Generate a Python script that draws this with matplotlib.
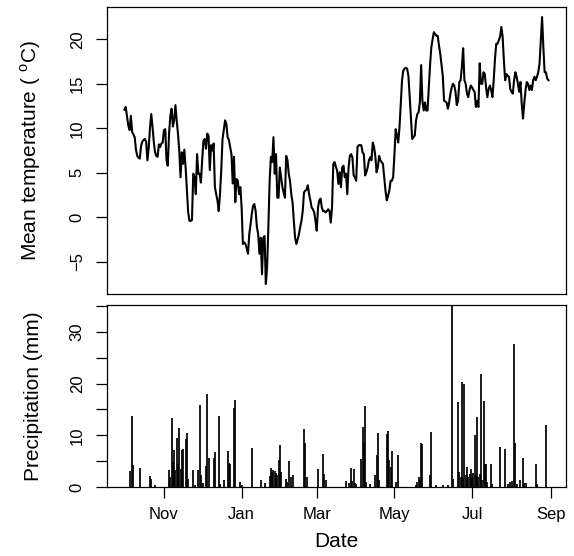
import numpy as np
import matplotlib.pyplot as plt
import matplotlib.dates as mdates

plt.rcParams['font.family'] = ['Liberation Sans', 'DejaVu Sans']
plt.rcParams['mathtext.fontset'] = 'custom'
plt.rcParams['mathtext.rm'] = 'Liberation Sans'

start = np.datetime64('2010-10-01')

# daily mean temperature, one value per day from 1 Oct
temp_c = [
    12.1, 12.4, 11.3, 10.3, 9.8, 11.4, 9.6, 9.3, 9.0, 7.6,
    6.9, 6.7, 6.6, 8.0, 8.5, 8.7, 8.8, 8.5, 6.4, 7.8,
    10.0, 11.6, 10.2, 8.5, 7.3, 6.9, 6.8, 8.2, 7.9, 8.3,
    8.4, 9.8, 9.9, 6.4, 5.8, 9.4, 11.4, 12.2, 10.2, 10.9,
    12.6, 10.9, 9.4, 7.5, 4.5, 7.3, 6.0, 7.6, 5.6, 3.0,
    0.6, -0.4, -0.4, -0.3, 4.9, 4.5, 2.6, 7.1, 4.9, 4.9,
    3.9, 6.4, 8.6, 8.8, 7.7, 9.4, 9.2, 5.3, 8.1, 7.5,
    8.3, 3.4, 2.6, 1.9, 0.7, 2.6, 5.3, 8.8, 9.8, 10.9,
    10.5, 9.0, 8.7, 7.9, 7.1, 3.8, 6.8, 1.7, 4.3, 4.1,
    2.6, 3.4, 1.1, -3.0, -2.8, -3.0, -3.5, -4.1, -1.9, -0.8,
    0.4, 1.3, 1.5, 0.7, -1.1, -1.9, -4.1, -2.3, -6.4, -2.3,
    -2.1, -7.5, -5.6, -1.1, 4.1, 6.8, 6.2, 9.0, 4.9, 7.1,
    2.2, 2.2, 5.6, 4.5, 3.4, 2.8, 2.2, 6.9, 6.4, 4.9,
    4.1, 2.6, 1.7, -0.4, -2.3, -3.0, -2.5, -1.9, -1.1, -0.4,
    0.7, 2.8, 3.0, 3.1, 3.6, 2.6, 1.9, 1.1, 0.9, 0.55,
    -0.4, -1.5, 1.1, 1.9, 2.1, 1.1, 0.7, 0.7, 0.55, 0.7,
    0.9, 0.7, -0.6, 1.1, 6.0, 6.2, 5.7, 5.25, 3.75, 5.06,
    3.37, 5.6, 5.8, 4.5, 4.9, 2.6, 5.6, 6.9, 7.1, 6.75,
    4.7, 4.5, 4.1, 7.9, 8.1, 8.1, 8.1, 7.3, 7.1, 4.7,
    5.06, 5.6, 6.4, 6.75, 6.4, 8.4, 7.9, 6.9, 5.06, 5.6,
    6.9, 6.4, 6.2, 6.0, 4.5, 3.0, 1.9, 2.4, 3.0, 4.1,
    4.1, 4.5, 7.0, 9.9, 9.2, 8.4, 10.1, 12.8, 15.4, 16.5,
    16.7, 16.8, 16.7, 15.9, 13.5, 10.9, 8.8, 9.0, 9.2, 10.9,
    11.6, 11.8, 12.9, 17.1, 13.1, 12.0, 12.9, 12.0, 12.0, 14.6,
    17.1, 19.1, 20.0, 20.8, 20.6, 20.4, 20.4, 19.3, 18.4, 17.1,
    15.9, 13.1, 13.0, 12.9, 12.2, 12.9, 13.9, 14.6, 15.0, 14.8,
    14.1, 12.6, 13.1, 15.2, 15.4, 16.9, 19.0, 15.4, 15.0, 13.9,
    13.5, 14.3, 14.8, 14.6, 14.3, 14.1, 12.4, 13.1, 12.4, 17.3,
    15.0, 15.0, 16.3, 16.1, 14.6, 13.5, 14.4, 14.8, 14.3, 13.5,
    15.4, 17.8, 19.5, 19.5, 19.9, 20.3, 21.4, 20.3, 17.6, 15.4,
    16.1, 15.9, 15.8, 14.4, 14.1, 13.9, 15.4, 16.3, 15.8, 15.0,
    14.1, 15.2, 12.8, 11.1, 12.8, 14.3, 15.2, 15.0, 14.3, 14.8,
    14.3, 15.4, 15.8, 15.4, 15.8, 16.3, 17.3, 19.9, 22.5, 19.1,
    16.3, 16.3, 15.6, 15.4,
]

# rain days (days since 1 Oct) and amounts in mm
rain_day = [
    4, 6, 7, 12, 20, 21, 24, 35, 36, 37, 38, 39, 40, 41, 42, 43, 44, 45,
    46, 48, 49, 50, 54, 55, 58, 59, 60, 62, 64, 65, 66, 70, 71, 74, 75,
    78, 81, 82, 83, 86, 87, 91, 92, 100, 107, 110, 114, 115, 116, 117,
    118, 119, 120, 121, 122, 123, 127, 128, 129, 131, 132, 141, 142, 143,
    152, 156, 157, 158, 174, 176, 178, 179, 180, 181, 182, 186, 187, 188,
    189, 190, 193, 197, 198, 199, 200, 206, 207, 208, 209, 210, 213, 215,
    229, 230, 231, 232, 233, 234, 240, 241, 245, 250, 254, 257, 258, 262,
    263, 264, 265, 266, 267, 268, 269, 270, 271, 272, 273, 274, 275, 276,
    277, 278, 279, 280, 281, 282, 283, 284, 285, 288, 289, 295, 299, 301,
    303, 304, 306, 307, 308, 311, 313, 314, 315, 323, 324, 331,
]
rain_mm = [
    3.0, 13.7, 4.2, 3.7, 2.1, 1.6, 0.3, 3.2, 1.9, 13.4, 4.8, 7.2, 3.2, 9.4,
    4.5, 11.5, 3.4, 7.2, 7.4, 9.2, 10.5, 1.6, 3.2, 0.3, 3.2, 15.8, 2.4, 0.8,
    4.0, 17.9, 5.7, 5.7, 6.8, 13.7, 0.6, 1.4, 7.0, 4.7, 4.4, 15.3, 16.8,
    1.0, 0.45, 7.6, 1.3, 0.8, 2.1, 3.6, 2.9, 3.2, 3.1, 2.7, 2.3, 5.2, 8.2,
    2.9, 1.6, 0.9, 5.0, 1.9, 2.3, 11.2, 8.6, 1.9, 3.4, 6.4, 2.6, 1.4, 1.1,
    0.8, 3.7, 1.2, 3.4, 0.8, 0.5, 5.5, 11.7, 8.7, 15.7, 1.0, 0.5, 2.4, 6.1,
    10.4, 1.4, 10.3, 10.8, 5.2, 3.9, 6.9, 1.0, 6.1, 0.3, 1.0, 1.9, 1.3,
    8.6, 8.3, 2.4, 10.6, 0.3, 0.3, 0.3, 35.2, 1.6, 16.4, 2.9, 1.9, 20.4,
    1.7, 19.9, 2.3, 3.9, 1.9, 2.6, 3.4, 1.9, 2.7, 10.0, 2.3, 13.5, 1.9,
    2.6, 21.9, 1.3, 16.6, 4.5, 4.5, 1.0, 4.4, 0.6, 7.7, 7.4, 0.6, 1.0, 1.2,
    27.7, 8.5, 0.6, 1.4, 5.7, 0.8, 0.8, 4.5, 0.6, 12.0,
]

temp_ticks = [-5, 0, 5, 10, 15, 20]
rain_ticks = [0, 5, 10, 15, 20, 25, 30, 35]

dates = start + np.arange(len(temp_c))
rain_dates = start + np.array(rain_day)
x0 = mdates.date2num(start)

fig = plt.figure(figsize=(5.74, 5.56), dpi=100)
ax1 = fig.add_axes([0.1864, 0.4712, 0.7997, 0.5162])
ax2 = fig.add_axes([0.1864, 0.1241, 0.7997, 0.3273])

ax1.plot(dates, temp_c, color='black', lw=1.5)
ax1.set_ylim(-8.62, 23.63)
ax1.set_yticks(temp_ticks)
ax1.set_xticks([])
ax1.set_ylabel(r'Mean temperature ( $^{\mathrm{o}}$C)', fontsize=15)

ax2.vlines(rain_dates, 0, rain_mm, color='black', lw=1.25)
ax2.set_ylim(0, 35.2)
ax2.set_yticks(rain_ticks)
ax2.set_yticklabels([str(t) if t % 10 == 0 else '' for t in rain_ticks])
ax2.set_ylabel('Precipitation (mm)', fontsize=15)
ax2.xaxis.set_major_locator(mdates.MonthLocator(bymonth=[11, 1, 3, 5, 7, 9]))
ax2.xaxis.set_major_formatter(mdates.DateFormatter('%b'))
ax2.set_xlabel('Date', fontsize=15)

for ax in (ax1, ax2):
    ax.set_xlim(x0 - 13.75, x0 + 346.8)
    for s in ax.spines.values():
        s.set_linewidth(0.9)
    ax.tick_params(length=8, width=0.9, labelsize=12, direction='out')
    ax.tick_params(axis='y', pad=8)
    plt.setp(ax.get_yticklabels(), rotation=90, va='center')
    ax.yaxis.set_label_coords(-0.14, 0.5)

ax2.tick_params(axis='x', pad=6.5)
ax2.xaxis.set_label_coords(0.5, -0.245)
ax2.xaxis.label.set_va('top')

fig.savefig('out.png', dpi=100)
